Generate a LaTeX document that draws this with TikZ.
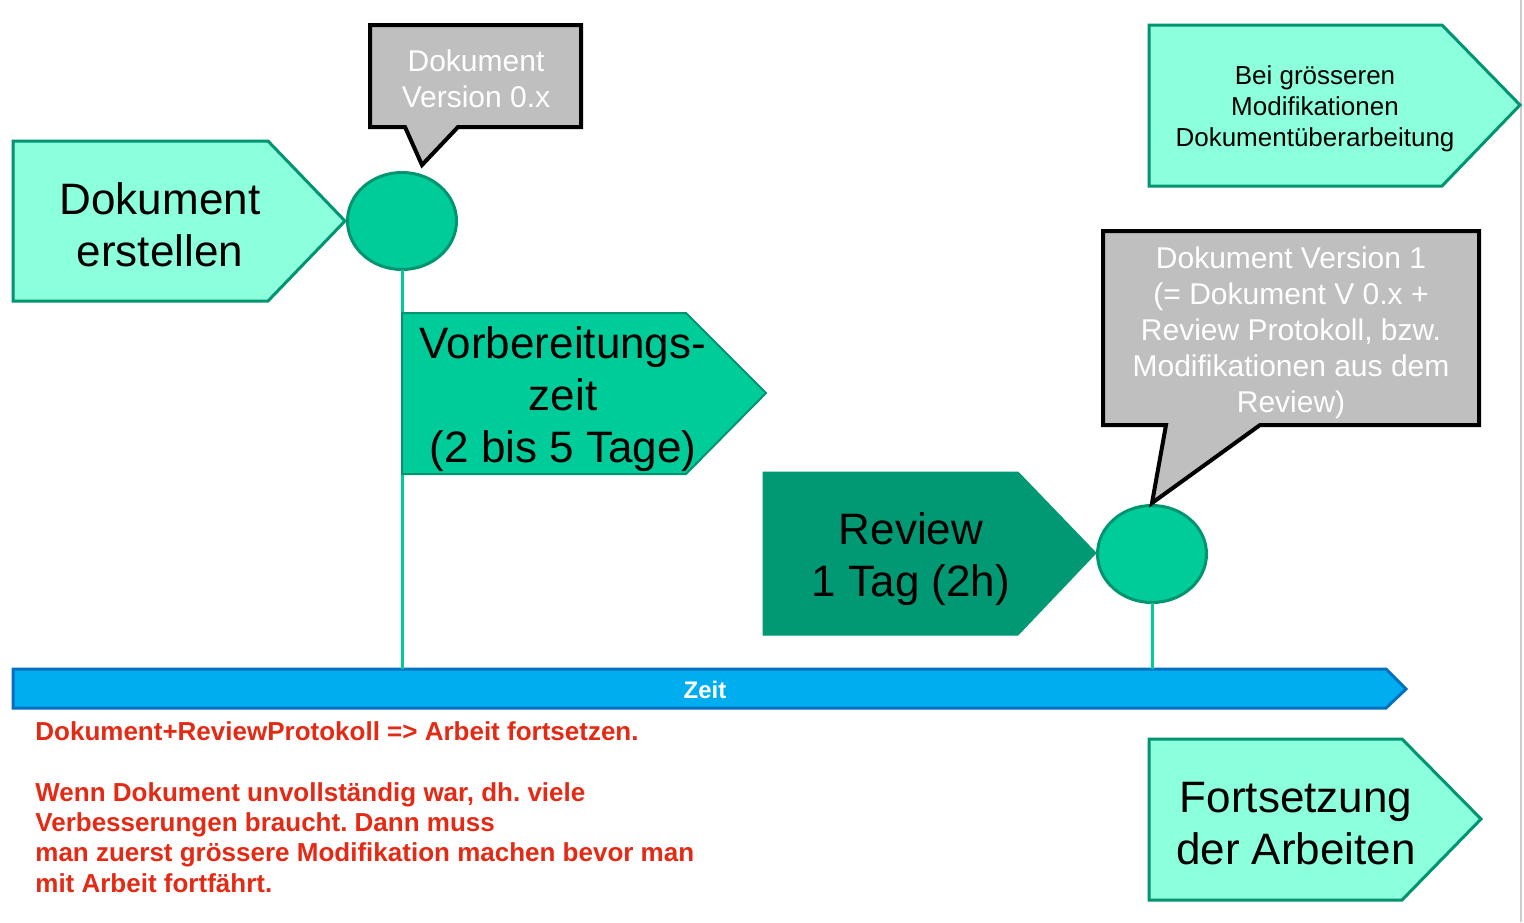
\documentclass[tikz,border=0pt]{standalone}
\usepackage{fontspec}
\setmainfont{Liberation Sans}
\newfontfamily\notebold{Liberation Sans Bold}
\usetikzlibrary{shapes.geometric}
\frenchspacing
\definecolor{lightaqua}{HTML}{8CFFDC}
\definecolor{darkgreen}{HTML}{009470}
\definecolor{midgreen}{HTML}{00CC99}
\definecolor{reviewgreen}{HTML}{009973}
\definecolor{calloutgrey}{HTML}{BFBFBF}
\definecolor{barblue}{HTML}{00AEEF}
\definecolor{barstroke}{HTML}{0070C0}
\definecolor{notered}{HTML}{E42A14}
\definecolor{edgegrey}{HTML}{CCCCCC}
\tikzset{
  x=0.5pt, y=-0.5pt,
  lightpent/.style={fill=lightaqua, draw=darkgreen, line width=1.5pt},
  midpent/.style={fill=midgreen, draw=darkgreen, line width=1pt},
  revpent/.style={fill=reviewgreen, draw=reviewgreen, line width=0.5pt},
  milestone/.style={ellipse, fill=midgreen, draw=darkgreen, line width=1.5pt, minimum width=54.5pt, minimum height=48.5pt, inner sep=0pt, outer sep=0pt},
  stem/.style={draw=midgreen, line width=1.5pt},
  callout/.style={fill=calloutgrey, draw=black, line width=2pt, line join=miter},
  bigtext/.style={align=center, text=black, font=\fontsize{22pt}{26pt}\selectfont, inner sep=0pt},
  callouttext/.style={align=center, text=white, font=\fontsize{15pt}{18pt}\selectfont, inner sep=0pt},
  smalltext/.style={align=center, text=black, font=\fontsize{13pt}{15.5pt}\selectfont, inner sep=0pt},
  notetext/.style={align=left, text=notered, font=\notebold\fontsize{13pt}{15.2pt}\selectfont\frenchspacing, inner sep=0pt, anchor=north west},
}
\begin{document}
\begin{tikzpicture}
\useasboundingbox (0,0) rectangle (1524,922);
\fill[white] (0,0) rectangle (1524,922);
% right edge line
\draw[edgegrey, line width=1pt] (1521,0) -- (1521,922);

% time bar
\draw[fill=barblue, draw=barstroke, line width=1.5pt, line join=miter]
  (13,669) -- (1386,669) -- (1406,689) -- (1386,708) -- (13,708) -- cycle;
\coordinate (bar1) at (402,669);
\coordinate (bar2) at (1152,669);
\node[text=white, font=\bfseries\fontsize{12pt}{14pt}\selectfont, inner sep=0pt] (zeit) at (705,690) {Zeit};

% milestones
\node[milestone] (m1) at (402,221) {};
\node[milestone] (m2) at (1152,554) {};
\draw[stem] (m1.south) -- (bar1);
\draw[stem] (m2.south) -- (bar2);

% Dokument erstellen
\draw[lightpent] (13,141) -- (268,141) -- (345,221) -- (268,301) -- (13,301) -- cycle;
\node[bigtext] (erstellen) at (160,225) {Dokument\\erstellen};

% Vorbereitungszeit
\draw[midpent] (402,313) -- (686,313) -- (766,393) -- (686,474) -- (402,474) -- cycle;
\node[bigtext] (vorb) at (563,399) {Vorbereitungs-\\zeit\\(2 bis 5 Tage)};

% Review
\draw[revpent] (763,472) -- (1018,472) -- (1096,553) -- (1018,635) -- (763,635) -- cycle;
\node[bigtext] (review) at (911,559) {Review\\1 Tag (2h)};

% Bei groesseren
\draw[lightpent] (1149,25) -- (1442,25) -- (1520,105) -- (1442,186) -- (1149,186) -- cycle;
\node[smalltext] (bei) at (1315,109) {Bei grösseren\\Modifikationen\\Dokumentüberarbeitung};

% Fortsetzung
\draw[lightpent] (1149,739) -- (1402,739) -- (1481,819) -- (1402,900) -- (1149,900) -- cycle;
\node[bigtext] (fort) at (1296,824) {Fortsetzung\\der Arbeiten};

% callout 1
\draw[callout] (370,25) -- (581,25) -- (581,127) -- (458,127) -- (422,165) -- (405,127) -- (370,127) -- cycle;
\node[callouttext] (c1) at (476,79) {Dokument\\Version 0.x};

% callout 2
\draw[callout] (1103,231) -- (1479,231) -- (1479,425) -- (1260,425) -- (1152,503) -- (1166,425) -- (1103,425) -- cycle;
\node[callouttext] (c2) at (1291,333) {Dokument Version 1\\(= Dokument V 0.x +\\Review Protokoll, bzw.\\Modifikationen aus dem\\Review)};

% red note
\node[notetext] (note) at (35,721) {Dokument+ReviewProtokoll => Arbeit fortsetzen.\\[15.2pt]Wenn Dokument unvollständig war, dh. viele\\Verbesserungen braucht. Dann muss\\man zuerst grössere Modifikation machen bevor man\\mit Arbeit fortfährt.};
\end{tikzpicture}
\end{document}
